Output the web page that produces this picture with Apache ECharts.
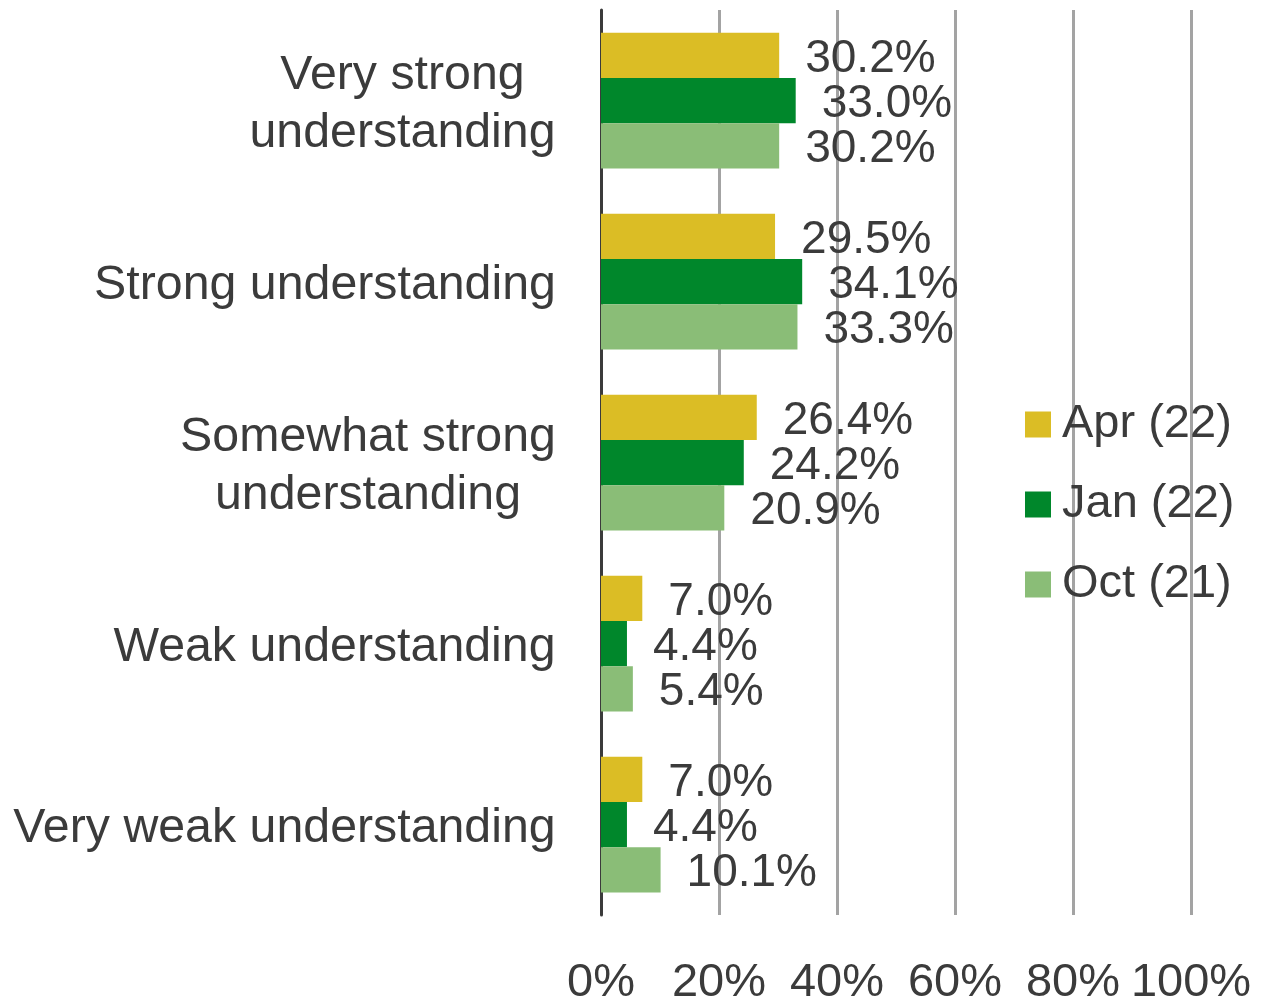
<!DOCTYPE html>
<html>
<head>
<meta charset="utf-8">
<script src="https://cdn.jsdelivr.net/npm/echarts@6/dist/echarts.min.js"></script>
<style>
  html, body { margin: 0; padding: 0; background: #fff; }
  #chart { width: 1266px; height: 1007px; }
</style>
</head>
<body>
<div id="chart"></div>
<script>
const categories = [
  'Very strong\nunderstanding',
  'Strong understanding',
  'Somewhat strong\nunderstanding',
  'Weak understanding',
  'Very weak understanding'
];
const seriesNames = ['Apr (22)', 'Jan (22)', 'Oct (21)'];
const aprValues = [30.2, 29.5, 26.4, 7.0, 7.0];
const janValues = [33.0, 34.1, 24.2, 4.4, 4.4];
const octValues = [30.2, 33.3, 20.9, 5.4, 10.1];
const xTicks = [0, 20, 40, 60, 80, 100];

const colors = ['#dbbd25', '#00872b', '#8abd77'];
const textColor = '#3b3b3b';
const font = 'Liberation Sans, Arial, sans-serif';
const catSize = 48.3;

// multi-line category labels are centred line by line, block right-aligned
const ctx = document.createElement('canvas').getContext('2d');
ctx.font = catSize + 'px ' + font;
const rich = {};
categories.forEach((c, i) => {
  const w = Math.max(...c.split('\n').map(s => ctx.measureText(s).width));
  rich['c' + i] = { width: Math.ceil(w), align: 'center', fontSize: catSize, lineHeight: 58, color: textColor, fontFamily: font };
});

const chart = echarts.init(document.getElementById('chart'));
const allValues = [aprValues, janValues, octValues];

chart.setOption({
  animation: false,
  color: colors,
  grid: { left: 601, right: 75, top: 10, bottom: 86, containLabel: false },
  legend: {
    orient: 'vertical',
    left: 1020,
    top: 396,
    itemWidth: 26,
    itemHeight: 26,
    itemGap: 33,
    icon: 'rect',
    data: seriesNames,
    textStyle: { fontSize: 47, color: textColor, fontFamily: font, padding: [0, 0, 0, 6] }
  },
  xAxis: {
    type: 'value',
    min: xTicks[0],
    max: xTicks[xTicks.length - 1],
    interval: 20,
    axisLine: { show: false },
    axisTick: { show: false },
    splitLine: { show: true, lineStyle: { color: '#a3a3a3', width: 3 } },
    axisLabel: {
      formatter: v => v + '%',
      fontSize: 47,
      color: textColor,
      fontFamily: font,
      margin: 45
    }
  },
  yAxis: {
    type: 'category',
    inverse: true,
    data: categories,
    axisLine: { show: true, lineStyle: { color: '#3b3b3b', width: 3 } },
    axisTick: { show: false },
    axisLabel: {
      margin: 45,
      padding: [8, 0, 0, 0],
      formatter: (v, i) => v.split('\n').map(s => '{c' + i + '|' + s + '}').join('\n'),
      rich: rich
    }
  },
  series: seriesNames.map((name, k) => ({
    name: name,
    type: 'bar',
    data: allValues[k],
    barGap: '0%',
    barCategoryGap: '25%',
    label: {
      show: true,
      position: 'right',
      distance: 26,
      offset: [0, 4],
      formatter: p => p.value.toFixed(1) + '%',
      fontSize: 46,
      color: textColor,
      fontFamily: font
    }
  }))
});
</script>
</body>
</html>
